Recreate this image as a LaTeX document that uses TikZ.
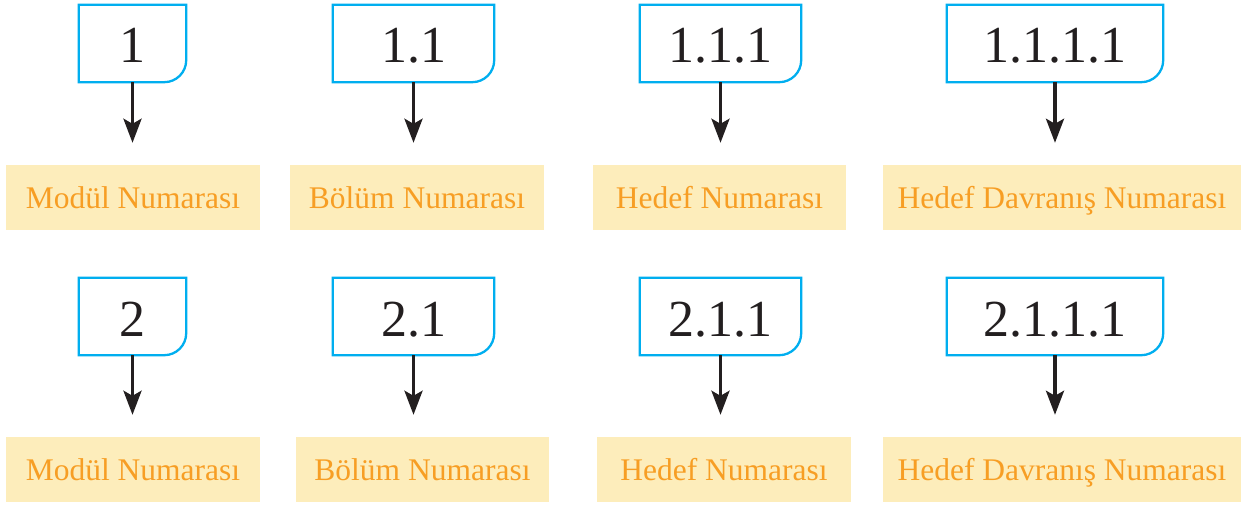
\documentclass[tikz,border=0pt]{standalone}
\usepackage{fontspec}
\setmainfont{LiberationSerif}[Extension=.ttf, UprightFont=*-Regular]
\usetikzlibrary{arrows.meta,calc}
\definecolor{boxcyan}{RGB}{0,174,239}
\definecolor{labelfill}{RGB}{253,237,187}
\definecolor{labeltext}{RGB}{247,158,36}
\definecolor{arrowdark}{RGB}{35,31,32}
\tikzset{
 numbox/.style={minimum height=77pt, inner sep=0pt, text height=39pt, text depth=0pt, font=\fontsize{52}{52}\selectfont, text=arrowdark},
 tagbox/.style={fill=labelfill, minimum height=65pt, inner sep=0pt, text height=25pt, text depth=4pt, font=\fontsize{31.5}{32}\selectfont, text=labeltext},
 arr/.style={draw=arrowdark, line width=3.5pt, -{Stealth[length=24pt,width=18pt,inset=5pt]}, shorten >=22pt},
 outline/.style={draw=boxcyan, line width=2.3pt, line join=miter}
}
\newcommand\drawtab[1]{\draw[outline] (#1.north west) -- (#1.north east) -- ([yshift=22pt]#1.south east) arc[start angle=0,end angle=-90,radius=22pt] -- (#1.south west) -- cycle;}
\begin{document}
\begin{tikzpicture}[x=1pt,y=1pt]
\useasboundingbox (0,0) rectangle (1250,-505);
% top row number boxes
\node[numbox, minimum width=107pt] (A1) at (132.5,-43.5) {1};
\node[numbox, minimum width=161pt] (A2) at (413.5,-43.5) {1.1};
\node[numbox, minimum width=161pt] (A3) at (720.5,-43.5) {1.1.1};
\node[numbox, minimum width=216pt] (A4) at (1055,-43.5) {1.1.1.1};
% top row labels
\node[tagbox, minimum width=254pt] (L1) at (133,-197.5) {Modül Numarası};
\node[tagbox, minimum width=254pt] (L2) at (417,-197.5) {Bölüm Numarası};
\node[tagbox, minimum width=253pt] (L3) at (719.5,-197.5) {Hedef Numarası};
\node[tagbox, minimum width=358pt] (L4) at (1062,-197.5) {Hedef Davranış Numarası};
% bottom row number boxes
\node[numbox, minimum width=107pt] (B1) at (132.5,-316.5) {2};
\node[numbox, minimum width=161pt] (B2) at (413.5,-316.5) {2.1};
\node[numbox, minimum width=161pt] (B3) at (720.5,-316.5) {2.1.1};
\node[numbox, minimum width=216pt] (B4) at (1055,-316.5) {2.1.1.1};
% bottom row labels
\node[tagbox, minimum width=254pt] (M1) at (133,-469.5) {Modül Numarası};
\node[tagbox, minimum width=253pt] (M2) at (422.5,-469.5) {Bölüm Numarası};
\node[tagbox, minimum width=254pt] (M3) at (724,-469.5) {Hedef Numarası};
\node[tagbox, minimum width=358pt] (M4) at (1062,-469.5) {Hedef Davranış Numarası};
% outlines
\drawtab{A1}\drawtab{A2}\drawtab{A3}\drawtab{A4}
\drawtab{B1}\drawtab{B2}\drawtab{B3}\drawtab{B4}
% arrows
\draw[arr] (A1.south) -- (A1.south |- L1.north);
\draw[arr] (A2.south) -- (A2.south |- L2.north);
\draw[arr] (A3.south) -- (A3.south |- L3.north);
\draw[arr] (A4.south) -- (A4.south |- L4.north);
\draw[arr] (B1.south) -- (B1.south |- M1.north);
\draw[arr] (B2.south) -- (B2.south |- M2.north);
\draw[arr] (B3.south) -- (B3.south |- M3.north);
\draw[arr] (B4.south) -- (B4.south |- M4.north);
\end{tikzpicture}
\end{document}
